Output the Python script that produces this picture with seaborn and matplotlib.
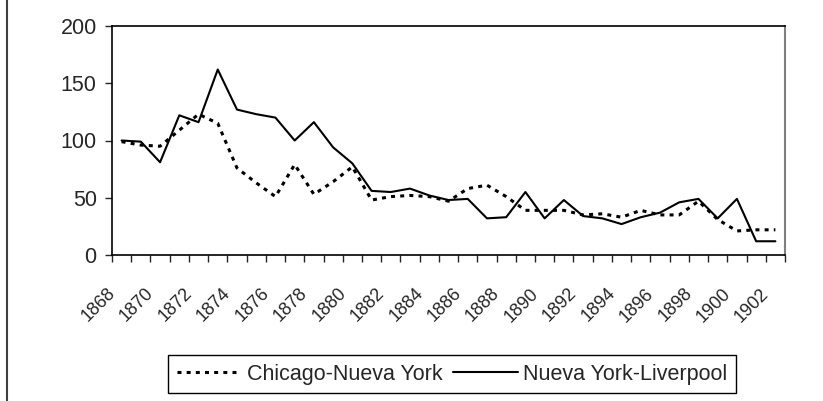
import pandas as pd
import matplotlib
matplotlib.use('Agg')
import matplotlib.pyplot as plt
import matplotlib.transforms as mtransforms
from matplotlib.lines import Line2D
from matplotlib.ticker import FixedLocator, NullFormatter
import seaborn as sns

years = list(range(1868, 1903))
chicago_ny = [99, 96, 95, 109, 123, 115, 76, 63, 51, 79, 53, 64, 77, 48,
              51, 52, 51, 47, 58, 61, 51, 39, 39, 39, 35, 36, 33, 39, 35, 35,
              47, 31, 21, 22, 22]
ny_liverpool = [100, 99, 81, 122, 116, 162, 127, 123, 120, 100, 116, 94, 80, 56,
                55, 58, 52, 48, 49, 32, 33, 55, 32, 48, 34, 32, 27, 33, 37, 46,
                49, 32, 49, 12, 12]
series_names = ['Chicago-Nueva York', 'Nueva York-Liverpool']

sns.set_style('white')
plt.rcParams['font.family'] = ['Liberation Sans', 'DejaVu Sans']

df = pd.DataFrame({'pos': range(len(years)), 'year': years,
                   series_names[0]: chicago_ny, series_names[1]: ny_liverpool})

W, H = 823, 401
fig = plt.figure(figsize=(W / 100, H / 100), dpi=100)
ax = fig.add_axes([112 / W, 1 - 255 / H, (785 - 112) / W, (255 - 26) / H])

sns.lineplot(x='pos', y=series_names[0], data=df, ax=ax, color='black',
             linewidth=2.2, linestyle=(0, (1.3, 1.7)), label=series_names[0], legend=False)
sns.lineplot(x='pos', y=series_names[1], data=df, ax=ax, color='black',
             linewidth=1.5, label=series_names[1], legend=False)

ax.set_xlim(-0.5, len(years) - 0.5)
ax.set_ylim(0, 200)
ax.set_yticks([0, 50, 100, 150, 200])
ax.tick_params(axis='y', direction='out', length=5, width=1, labelsize=15.5, pad=6, left=True)
ax.set_xticks(range(0, len(years), 2))
ax.set_xticklabels([str(y) for y in years[::2]], rotation=45, ha='right',
                   rotation_mode='anchor', fontsize=13)
ax.tick_params(axis='x', which='major', length=0, pad=21.5)
ax.xaxis.set_minor_locator(FixedLocator([i - 0.5 for i in range(len(years) + 1)]))
ax.xaxis.set_minor_formatter(NullFormatter())
ax.tick_params(axis='x', which='minor', direction='out', length=5, width=1, bottom=True)
# shift the slanted year labels to the left, like the original
offset = mtransforms.ScaledTranslation(-15 / 100, 0, fig.dpi_scale_trans)
for lbl in ax.get_xticklabels():
    lbl.set_transform(lbl.get_transform() + offset)
ax.set_xlabel(None)
ax.set_ylabel(None)
for side in ['left', 'bottom', 'top']:
    ax.spines[side].set_color('black')
    ax.spines[side].set_linewidth(1.2)
ax.spines['right'].set_color('#808080')
ax.spines['right'].set_linewidth(1.5)

handles, labels = ax.get_legend_handles_labels()
fig.legend(handles, labels, loc='upper left', bbox_to_anchor=(168 / W, 1 - 355 / H),
           ncol=2, fontsize=15.5, frameon=True, fancybox=False, framealpha=1,
           edgecolor='black', handlelength=3.0, handletextpad=0.25,
           columnspacing=0.5, borderpad=0.4, borderaxespad=0)

fig.add_artist(Line2D([7 / W, 7 / W], [0, 1], color='#404040', linewidth=1.5))

plt.savefig('out.png', dpi=100)
